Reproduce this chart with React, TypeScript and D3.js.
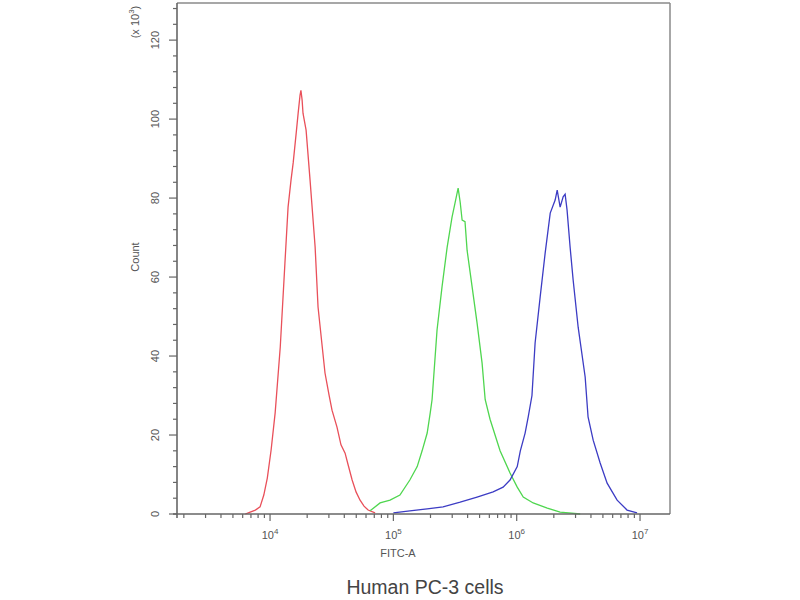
import React from "react";
import * as d3 from "d3";

// FITC-A intensity vs count (x10^3)
const redSeries: [number, number][] = [
  [6.3e3, 0], [6.9e3, 0.5], [7.6e3, 1], [8.3e3, 1.8], [8.9e3, 4.8], [9.5e3, 9.1],
  [1.02e4, 16.2], [1.1e4, 25.6], [1.21e4, 42.3], [1.32e4, 63.5], [1.4e4, 77.7],
  [1.48e4, 84.6], [1.54e4, 88.9], [1.63e4, 96.5], [1.69e4, 101.5], [1.75e4, 106],
  [1.78e4, 107.3], [1.82e4, 104.8], [1.85e4, 101.5], [1.96e4, 97.2], [2.11e4, 84.6],
  [2.32e4, 67.6], [2.45e4, 52.4], [2.64e4, 42.8], [2.79e4, 35.7], [3.01e4, 30.1],
  [3.18e4, 26.3], [3.49e4, 22], [3.76e4, 17.5], [4.06e4, 15.4], [4.3e4, 12.4],
  [4.63e4, 8.6], [4.98e4, 5.6], [5.37e4, 3.5], [5.78e4, 2], [6.24e4, 1], [7.11e4, 0.3],
];

const greenSeries: [number, number][] = [
  [6.47e4, 0.8], [7.8e4, 2.8], [9.4e4, 3.5], [1.13e5, 4.8], [1.36e5, 8.6], [1.56e5, 12],
  [1.71e5, 16], [1.88e5, 20.5], [1.99e5, 25.6], [2.06e5, 29], [2.26e5, 46.6], [2.48e5, 57.5],
  [2.73e5, 67.6], [2.99e5, 75.2], [3.16e5, 78.7], [3.35e5, 82.5], [3.48e5, 79],
  [3.61e5, 74.4], [3.81e5, 74], [3.96e5, 66.8], [4.35e5, 57.5], [4.77e5, 48.4],
  [5.24e5, 38.2], [5.55e5, 29], [6.08e5, 24], [7.33e5, 16], [8.83e5, 10.4],
  [1.01e6, 6.8], [1.13e6, 4.3], [1.36e6, 2.8], [1.77e6, 1.5], [2.25e6, 0.5], [3.27e6, 0],
];

const blueSeries: [number, number][] = [
  [1.0e5, 0.3], [1.36e5, 0.8], [1.88e5, 1.3], [2.53e5, 1.8], [3.48e5, 3], [4.77e5, 4.3],
  [6.44e5, 5.6], [7.76e5, 6.8], [8.83e5, 8.6], [1.01e6, 12], [1.07e6, 16], [1.17e6, 20.5],
  [1.24e6, 24.6], [1.33e6, 30], [1.41e6, 43.3],
  [1.55e6, 55], [1.7e6, 66], [1.87e6, 76.2], [2.05e6, 79.5], [2.13e6, 82], [2.25e6, 77.7],
  [2.38e6, 80.3], [2.47e6, 81], [2.56e6, 77], [2.71e6, 67.6], [2.87e6, 59.2],
  [3.15e6, 47.3], [3.59e6, 34.7], [3.79e6, 24.6], [4.17e6, 18.7], [4.75e6, 12.9],
  [5.41e6, 7.8], [6.52e6, 3.5], [7.85e6, 1], [9.46e6, 0.3],
];

const yTicks = [0, 20, 40, 60, 80, 100, 120];
const xDecades = [4, 5, 6, 7];
const xDomain: [number, number] = [1.76e3, 1.75e7];
const yDomain: [number, number] = [0, 129.4];

const L = 177, R = 670, T = 3, B = 514;
const axisColor = "#666";
const textColor = "#555";
const font = "'Liberation Sans', Arial, sans-serif";

export default function App() {
  const x = d3.scaleLog().domain(xDomain).range([L, R]);
  const y = d3.scaleLinear().domain(yDomain).range([B, T]);
  const line = d3.line<[number, number]>().x((d) => x(d[0])).y((d) => y(d[1]));

  const minorX: number[] = [];
  for (let e = 3; e <= 7; e++) {
    for (let k = 1; k <= 9; k++) {
      const v = k * Math.pow(10, e);
      if (v >= xDomain[0] && v <= xDomain[1]) minorX.push(v);
    }
  }
  const minorY = d3.range(0, 129, 4);

  return (
    <svg width={800} height={600} style={{ position: "absolute", left: 0, top: 0, background: "#fff" }}>
      <rect x={0} y={0} width={800} height={600} fill="#fff" />
      {/* frame */}
      <line x1={L} x2={R} y1={T} y2={T} stroke="#8a8a8a" strokeWidth={1.5} />
      <line x1={R} x2={R} y1={T} y2={B} stroke="#8a8a8a" strokeWidth={1.5} />
      {/* curves */}
      <path d={line(redSeries) || ""} fill="none" stroke="#e9505a" strokeWidth={1.3} />
      <path d={line(greenSeries) || ""} fill="none" stroke="#4fd64f" strokeWidth={1.3} />
      <path d={line(blueSeries) || ""} fill="none" stroke="#3c3cc4" strokeWidth={1.3} />
      {/* axes */}
      <line x1={L - 4} x2={R} y1={B} y2={B} stroke={axisColor} strokeWidth={1.6} />
      <line x1={L} x2={L} y1={T} y2={B + 4} stroke={axisColor} strokeWidth={1.6} />
      {minorY.map((v) => (
        <line key={"my" + v} x1={L - (v % 20 === 0 ? 8 : 4)} x2={L} y1={y(v)} y2={y(v)} stroke={axisColor} strokeWidth={1.2} />
      ))}
      {minorX.map((v) => {
        const major = Math.abs(Math.log10(v) - Math.round(Math.log10(v))) < 1e-9;
        return (
          <line key={"mx" + v} x1={x(v)} x2={x(v)} y1={B} y2={B + (major ? 7 : 4)} stroke={axisColor} strokeWidth={1.2} />
        );
      })}
      {yTicks.map((v) => (
        <text key={"yt" + v} transform={`translate(159,${y(v)}) rotate(-90)`} textAnchor="middle" fontFamily={font} fontSize={11} fill={textColor}>
          {v}
        </text>
      ))}
      {xDecades.map((e) => (
        <text key={"xt" + e} x={x(Math.pow(10, e))} y={539} textAnchor="middle" fontFamily={font} fontSize={11} fill={textColor}>
          10<tspan dy={-5} fontSize={8}>{e}</tspan>
        </text>
      ))}
      <text transform={`translate(139,257) rotate(-90)`} textAnchor="middle" fontFamily={font} fontSize={11} fill={textColor}>
        Count
      </text>
      <text transform={`translate(139,22) rotate(-90)`} textAnchor="middle" fontFamily={font} fontSize={11} fill={textColor}>
        (x 10<tspan dy={-5} fontSize={8}>3</tspan><tspan dy={5}>)</tspan>
      </text>
      <text x={398} y={557} textAnchor="middle" fontFamily={font} fontSize={11} fill={textColor}>
        FITC-A
      </text>
      <text x={425} y={594} textAnchor="middle" fontFamily={font} fontSize={19.5} fill="#444">
        Human PC-3 cells
      </text>
    </svg>
  );
}
